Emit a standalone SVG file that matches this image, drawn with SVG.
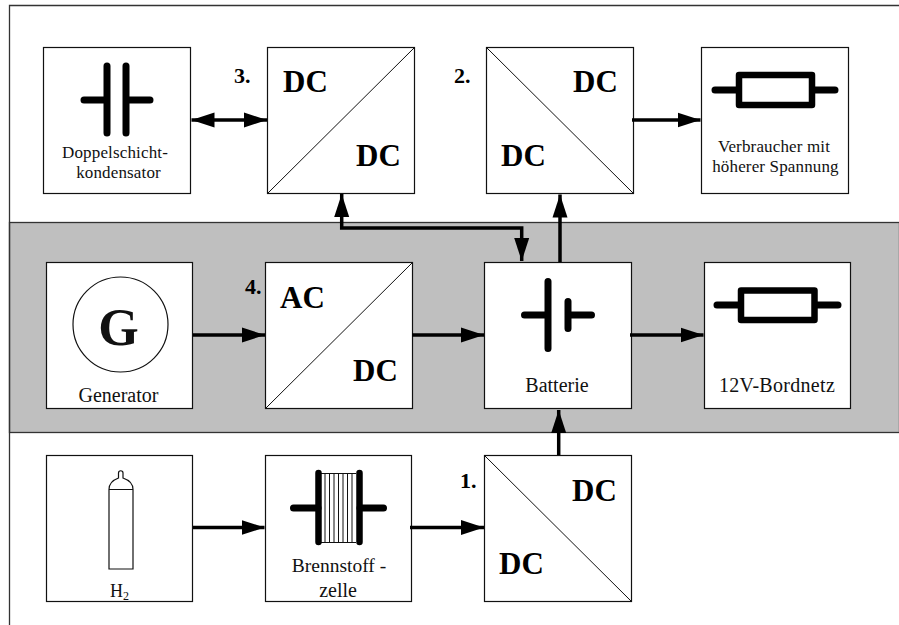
<svg xmlns="http://www.w3.org/2000/svg" width="899" height="625" viewBox="0 0 899 625">
<style>
.box{fill:#fff;stroke:#111;stroke-width:1.2}
.thin{fill:none;stroke:#111;stroke-width:1}
.sym{fill:none;stroke:#000;stroke-width:7;stroke-linecap:round;stroke-linejoin:round}
.res{fill:#fff;stroke:#000;stroke-width:6.5;stroke-linejoin:round}
.wire{fill:none;stroke:#000;stroke-width:3.5}
text{font-family:"Liberation Serif","Times New Roman",serif;fill:#111}
.lab{font-size:17px;text-anchor:middle;letter-spacing:.15px}
.lab2{font-size:20px;text-anchor:middle}
.big{font-size:31px;font-weight:bold;fill:#000}
.num{font-size:22px;font-weight:bold;fill:#000}
</style>
<defs>
<marker id="a" markerUnits="userSpaceOnUse" markerWidth="24" markerHeight="16" refX="23" refY="8" orient="auto-start-reverse"><path d="M0 0.500L23 8L0 15.500z" fill="#000"/></marker>
</defs>
<rect width="899" height="625" fill="#fff"/>
<rect id="band" x="9.500" y="222.500" width="890" height="210" fill="#bfbfbf" stroke="#333" stroke-width="1.300"/>
<path d="M9.500 625V5.500H899" fill="none" stroke="#333" stroke-width="1.300"/>
<g id="dsk"><rect class="box" x="43.500" y="47.500" width="147" height="146"/><path class="sym" d="M107 66V133M126 66V133M84 100H107M126 100H150"/><text class="lab" x="115" y="158">Doppelschicht-</text><text class="lab" x="118.500" y="178">kondensator</text></g>
<g id="dcdc3"><rect class="box" x="267.500" y="47.500" width="147" height="146"/><path class="thin" d="M267.500 193.500L414.500 47.500"/><text class="big" x="283" y="92">DC</text><text class="big" x="356" y="166">DC</text><text class="num" x="234" y="83">3.</text></g>
<g id="dcdc2"><rect class="box" x="486.500" y="47.500" width="147" height="146"/><path class="thin" d="M486.500 47.500L633.500 193.500"/><text class="big" x="573" y="92">DC</text><text class="big" x="501" y="166">DC</text><text class="num" x="454" y="83">2.</text></g>
<g id="verbr"><rect class="box" x="701.500" y="47.500" width="147" height="146"/><path class="sym" d="M715 90H739M812 90H835"/><rect class="res" x="739" y="75" width="73" height="30"/><text class="lab" x="774" y="152">Verbraucher mit</text><text class="lab" x="775.500" y="172">höherer Spannung</text></g>
<g id="gen"><rect class="box" x="46.500" y="262.500" width="146" height="146"/><circle cx="120.500" cy="324.500" r="47.500" fill="#fff" stroke="#111" stroke-width="1.200"/><text x="118.500" y="345" font-size="52" font-weight="bold" text-anchor="middle" fill="#000">G</text><text class="lab2" x="118.500" y="402">Generator</text></g>
<g id="acdc"><rect class="box" x="265.500" y="262.500" width="147" height="146"/><path class="thin" d="M265.500 408.500L412.500 262.500"/><text class="big" x="280" y="308">AC</text><text class="big" x="353" y="381">DC</text><text class="num" x="245" y="294">4.</text></g>
<g id="bat"><rect class="box" x="484.500" y="262.500" width="147" height="146"/><path class="sym" d="M548 281.500V348.500M568 301.500V328.500M524.500 315H548M568 315H591.500"/><text class="lab2" x="557" y="392">Batterie</text></g>
<g id="bord"><rect class="box" x="704.500" y="262.500" width="146" height="146"/><path class="sym" d="M717 305H741M815 305H838"/><rect class="res" x="741" y="290.500" width="73.500" height="29.500"/><text class="lab2" x="777" y="392" letter-spacing=".3">12V-Bordnetz</text></g>
<g id="h2"><rect class="box" x="46.500" y="455.500" width="146" height="146"/><path fill="none" stroke="#111" stroke-width="1.200" d="M109 489.500H133V569H109ZM109 489.500C109 483 113 480 118.500 478V473C118.500 470 123 470 123 473V478C129 480 133 483 133 489.500"/><text x="110" y="597" font-size="18">H<tspan font-size="12" dy="3">2</tspan></text></g>
<g id="bz"><rect class="box" x="265.500" y="455.500" width="146" height="146"/><path class="thin" d="M321 473.500H356M321 542.500H356M325 473.500V542.500M329.500 473.500V542.500M334 473.500V542.500M338.500 473.500V542.500M343 473.500V542.500M347.500 473.500V542.500M352 473.500V542.500"/><path d="M318.500 473V542M359.500 473V542" fill="none" stroke="#000" stroke-width="6.500" stroke-linecap="round"/><path class="sym" d="M293.500 508H318M360 508H383.500"/><text x="339" y="572" font-size="19.500" text-anchor="middle">Brennstoff -</text><text class="lab2" x="338" y="597">zelle</text></g>
<g id="dcdc1"><rect class="box" x="484.500" y="455.500" width="147" height="146"/><path class="thin" d="M484.500 455.500L631.500 601.500"/><text class="big" x="572" y="501">DC</text><text class="big" x="499" y="574">DC</text><text class="num" x="460" y="488">1.</text></g>
<g id="connectors">
<path class="wire" marker-start="url(#a)" marker-end="url(#a)" d="M191.500 120H267"/>
<path class="wire" marker-end="url(#a)" d="M632 120H700.500"/>
<path class="wire" marker-end="url(#a)" d="M560 262V194.500"/>
<path class="wire" marker-start="url(#a)" marker-end="url(#a)" d="M341.700 194V228H521.700V261"/>
<path class="wire" marker-end="url(#a)" d="M193 335H265"/>
<path class="wire" marker-end="url(#a)" d="M412 335H484"/>
<path class="wire" marker-end="url(#a)" d="M630 335H703.500"/>
<path class="wire" marker-end="url(#a)" d="M193 527.500H264.500"/>
<path class="wire" marker-end="url(#a)" d="M410 527.500H484"/>
<path class="wire" marker-end="url(#a)" d="M558.700 455V410"/>
</g>
</svg>
